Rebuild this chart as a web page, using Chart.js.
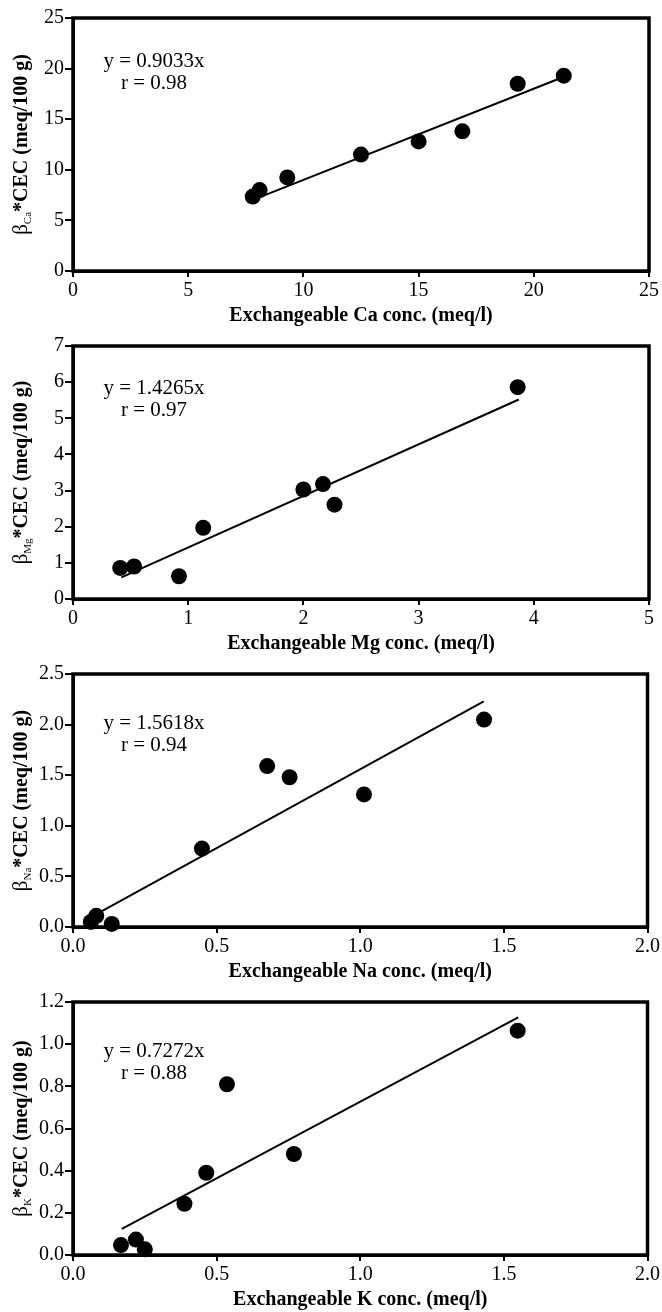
<!DOCTYPE html>
<html><head><meta charset="utf-8">
<script src="https://cdn.jsdelivr.net/npm/chart.js@4/dist/chart.umd.min.js"></script>
<style>
html,body{margin:0;padding:0;background:#fff;}
canvas{display:block;}
</style></head><body>
<canvas id="c0" width="662" height="328"></canvas>
<canvas id="c1" width="662" height="328"></canvas>
<canvas id="c2" width="662" height="328"></canvas>
<canvas id="c3" width="662" height="328"></canvas>
<script>
// ---- data ----
const caX = [7.8, 8.1, 9.3, 12.5, 15.0, 16.9, 19.3, 21.3];
const caY = [7.35, 8.0, 9.25, 11.5, 12.8, 13.8, 18.5, 19.3];
const caLineX = [8.0, 21.2];
const caLineY = [7.2, 19.1];
const caXTicks = ['0','5','10','15','20','25'];
const caYTicks = ['0','5','10','15','20','25'];

const mgX = [0.41, 0.53, 0.92, 1.13, 2.00, 2.17, 2.27, 3.86];
const mgY = [0.86, 0.90, 0.63, 1.97, 3.03, 3.18, 2.61, 5.86];
const mgLineX = [0.42, 3.87];
const mgLineY = [0.60, 5.52];
const mgXTicks = ['0','1','2','3','4','5'];
const mgYTicks = ['0','1','2','3','4','5','6','7'];

const naX = [0.062, 0.081, 0.135, 0.449, 0.676, 0.754, 1.013, 1.431];
const naY = [0.05, 0.11, 0.03, 0.775, 1.59, 1.48, 1.31, 2.05];
const naLineX = [0.08, 1.43];
const naLineY = [0.125, 2.23];
const naXTicks = ['0.0','0.5','1.0','1.5','2.0'];
const naYTicks = ['0.0','0.5','1.0','1.5','2.0','2.5'];

const kX = [0.167, 0.219, 0.25, 0.388, 0.464, 0.536, 0.769, 1.548];
const kY = [0.047, 0.073, 0.027, 0.243, 0.39, 0.81, 0.479, 1.064];
const kLineX = [0.17, 1.55];
const kLineY = [0.124, 1.127];
const kXTicks = ['0.0','0.5','1.0','1.5','2.0'];
const kYTicks = ['0.0','0.2','0.4','0.6','0.8','1.0','1.2'];

const panels = [
  {id:'c0', x:caX, y:caY, lx:caLineX, ly:caLineY, xt:caXTicks, yt:caYTicks, sub:'Ca', el:'Ca', eq:'y = 0.9033x', r:'r = 0.98', ann:[42,64]},
  {id:'c1', x:mgX, y:mgY, lx:mgLineX, ly:mgLineY, xt:mgXTicks, yt:mgYTicks, sub:'Mg', el:'Mg', eq:'y = 1.4265x', r:'r = 0.97', ann:[41,63]},
  {id:'c2', x:naX, y:naY, lx:naLineX, ly:naLineY, xt:naXTicks, yt:naYTicks, sub:'Na', el:'Na', eq:'y = 1.5618x', r:'r = 0.94', ann:[48,70]},
  {id:'c3', x:kX, y:kY, lx:kLineX, ly:kLineY, xt:kXTicks, yt:kYTicks, sub:'K', el:'K', eq:'y = 0.7272x', r:'r = 0.88', ann:[48,70]}
];

const SERIF = "'Liberation Serif', 'DejaVu Serif', serif";

function axis(ticks, isX, titleText, fit) {
  const vals = ticks.map(parseFloat);
  return {
    type: 'linear',
    min: vals[0], max: vals[vals.length-1],
    afterBuildTicks: s => { s.ticks = vals.map(v => ({value: v})); },
    afterFit: fit,
    ticks: {
      callback: (v) => { const i = vals.indexOf(v); return i >= 0 ? ticks[i] : ''; },
      color: '#000', font: {family: SERIF, size: 20}, padding: isX ? 2 : 1,
      maxRotation: 0, autoSkip: false
    },
    grid: {display: true, drawOnChartArea: false, drawTicks: true, tickLength: isX ? 6 : 8, color: '#000', lineWidth: 2},
    border: {display: true, color: '#000', width: 3},
    title: isX ? {display: true, text: titleText, color: '#000', font: {family: SERIF, size: 20, weight: 'bold'}, padding: {top: 0, bottom: 0}} : {display: false}
  };
}

const framePlugin = {
  id: 'frame',
  beforeDatasetsDraw(chart) {
    const a = chart.chartArea, ctx = chart.ctx;
    ctx.save();
    ctx.strokeStyle = '#000'; ctx.lineWidth = 3.5;
    ctx.strokeRect(a.left, a.top, a.right - a.left, a.bottom - a.top);
    ctx.restore();
  }
};

const textPlugin = {
  id: 'texts',
  afterDraw(chart) {
    const o = chart.options.plugins.texts;
    const a = chart.chartArea, ctx = chart.ctx;
    ctx.save();
    ctx.fillStyle = '#000';
    // annotation
    ctx.font = '21px ' + SERIF;
    ctx.textAlign = 'center'; ctx.textBaseline = 'middle';
    ctx.fillText(o.eq, a.left + 81, a.top + o.ann[0] + 1);
    ctx.fillText(o.r, a.left + 81, a.top + o.ann[1] + 1);
    // y-axis title with subscript
    ctx.translate(20, (a.top + a.bottom) / 2);
    ctx.rotate(-Math.PI / 2);
    ctx.textAlign = 'left'; ctx.textBaseline = 'alphabetic';
    const parts = [
      {t: 'β', f: '21px ' + SERIF, dy: 0},
      {t: o.sub, f: '11px ' + SERIF, dy: 4},
      {t: '*CEC (meq/100 g)', f: 'bold 20px ' + SERIF, dy: 0}
    ];
    let total = 0;
    parts.forEach(p => { ctx.font = p.f; p.w = ctx.measureText(p.t).width; total += p.w; });
    let x = -total / 2;
    parts.forEach(p => { ctx.font = p.f; ctx.fillText(p.t, x, 7 + p.dy); x += p.w; });
    ctx.restore();
  }
};

panels.forEach(p => {
  new Chart(document.getElementById(p.id), {
    data: {
      datasets: [
        {type: 'line', data: p.lx.map((v, i) => ({x: v, y: p.ly[i]})), borderColor: '#000', borderWidth: 2, pointRadius: 0, fill: false, tension: 0},
        {type: 'scatter', data: p.x.map((v, i) => ({x: v, y: p.y[i]})), backgroundColor: '#000', borderColor: '#000', borderWidth: 0, pointRadius: 8, clip: false}
      ]
    },
    options: {
      responsive: false, animation: false,
      layout: {padding: {left: 0, top: 18, right: 13, bottom: 0}},
      plugins: {legend: {display: false}, tooltip: {enabled: false},
        texts: {eq: p.eq, r: p.r, sub: p.sub, ann: p.ann}},
      scales: {
        x: axis(p.xt, true, 'Exchangeable ' + p.el + ' conc. (meq/l)', s => { s.height = 57; }),
        y: axis(p.yt, false, '', s => { s.width = 73; })
      }
    },
    plugins: [framePlugin, textPlugin]
  });
});
</script>
</body></html>
